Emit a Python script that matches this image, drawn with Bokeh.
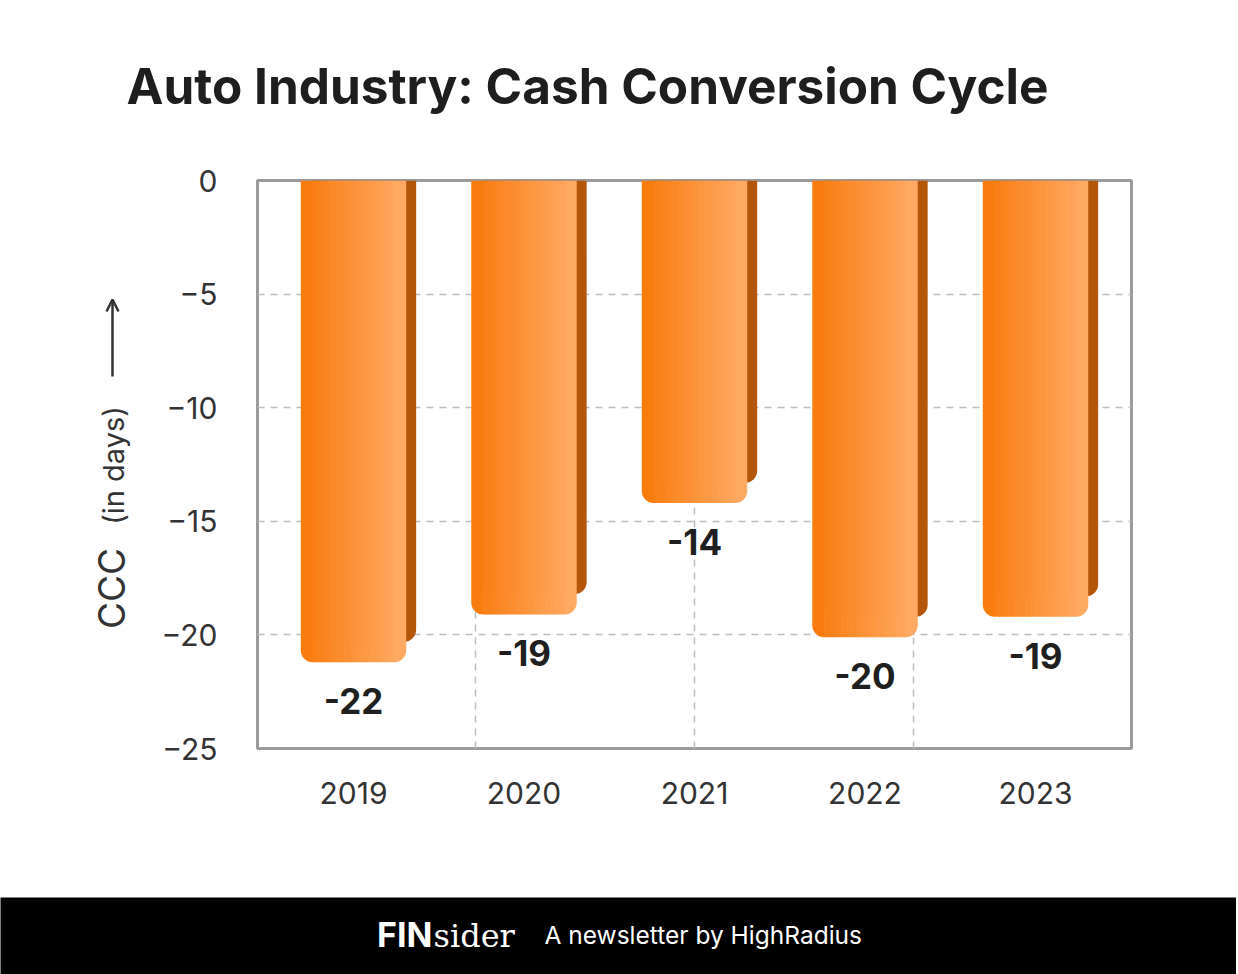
import numpy as np
from bokeh.plotting import figure
from bokeh.models import FixedTicker, Range1d, ColumnDataSource, Arrow, OpenHead
from bokeh.layouts import column, row
from bokeh.embed import file_html
from bokeh.resources import INLINE
from bokeh.core.properties import value

# ---------------- data ----------------
years = ["2019", "2020", "2021", "2022", "2023"]
ccc_days = [-21.2, -19.1, -14.2, -20.1, -19.2]
ccc_labels = ["-22", "-19", "-14", "-20", "-19"]
y_ticks = [0, -5, -10, -15, -20, -25]
y_grid = [-5, -10, -15, -20]

title_text = "Auto Industry: Cash Conversion Cycle"
y_label_main = "CCC"
y_label_unit = "(in days)"
footer_brand_a = "FIN"
footer_brand_b = "sider"
footer_text = "A newsletter by HighRadius"

# ---------------- style ----------------
FONT = "Inter"
W = 1236
TITLE_H = 140
MAIN_H = 757
FOOT_H = 77
YT_W = 150                # width of the strip holding the vertical y title
PX_PER_X = 170.5          # pixels per x unit in the frame
BAR_W = 0.615
SIDE_DX = 0.06
SIDE_DY = 0.9
R = 12
C_LEFT = np.array([249, 121, 10])
C_RIGHT = np.array([255, 172, 104])
SIDE_COLOR = "#B4560A"
TXT = "#333333"

x_pos = [i + 1 for i in range(len(years))]


def grad(t):
    r, g, b = (C_LEFT + (C_RIGHT - C_LEFT) * t).round().astype(int)
    return f"#{r:02x}{g:02x}{b:02x}"


def blank(width, height, **kw):
    f = figure(width=width, height=height, x_range=Range1d(0, width), y_range=Range1d(0, height),
               output_backend="svg", toolbar_location=None, min_border=0,
               x_axis_type=None, y_axis_type=None, frame_align=False, **kw)
    f.grid.visible = False
    f.outline_line_color = None
    return f


# ---------------- title ----------------
tfig = blank(W, TITLE_H)
tfig.text(x=[126], y=[TITLE_H - 85], text=[title_text], text_font=value(FONT),
          text_font_style="bold", text_font_size="49.5px", text_color="#1E1E1E",
          text_align="left", text_baseline="middle")

# ---------------- y title strip ----------------
yfig = blank(YT_W, MAIN_H)
top_px = TITLE_H + MAIN_H   # page y of the strip bottom
yfig.text(x=[111], y=[top_px - 588], text=[y_label_main], angle=np.pi / 2, text_font=value(FONT),
          text_font_size="37px", text_color=TXT, text_align="center", text_baseline="middle")
yfig.text(x=[113], y=[top_px - 465], text=[y_label_unit], angle=np.pi / 2, text_font=value(FONT),
          text_font_size="29px", text_color=TXT, text_align="center", text_baseline="middle")
yfig.add_layout(Arrow(x_start=112, y_start=top_px - 376, x_end=112, y_end=top_px - 299,
                      line_color=TXT, line_width=2.5,
                      end=OpenHead(size=12, line_color=TXT, line_width=2.5)))

# ---------------- main chart ----------------
p = figure(width=W - YT_W, height=MAIN_H, x_range=Range1d(0.437, 5.563), y_range=Range1d(-25, 0),
           output_backend="svg", toolbar_location=None, frame_align=False,
           min_border_left=257 - YT_W, min_border_right=W - 1131, min_border_top=180 - TITLE_H,
           min_border_bottom=TITLE_H + MAIN_H - 748)
p.outline_line_color = "#9B9B9B"
p.outline_line_width = 3

p.xgrid.ticker = FixedTicker(ticks=[1.715, 3.0, 4.285])
p.ygrid.ticker = FixedTicker(ticks=y_grid)
for g in (p.xgrid, p.ygrid):
    g.grid_line_color = "#BDBDBD"
    g.grid_line_width = 1.5
    g.grid_line_dash = "7 6"

p.xaxis.ticker = FixedTicker(ticks=x_pos)
p.xaxis.major_label_overrides = {x: y for x, y in zip(x_pos, years)}
p.yaxis.ticker = FixedTicker(ticks=y_ticks)
for ax in (p.xaxis, p.yaxis):
    ax.axis_line_color = None
    ax.major_tick_line_color = None
    ax.minor_tick_line_color = None
    ax.major_tick_out = 0
    ax.major_tick_in = 0
    ax.major_label_text_font = FONT
    ax.major_label_text_font_size = "30px"
    ax.major_label_text_color = TXT
p.xaxis.major_label_standoff = 33
p.yaxis.major_label_standoff = 40

# side (shadow) faces
p.vbar(x=[x + SIDE_DX for x in x_pos], width=BAR_W, top=0,
       bottom=[v + SIDE_DY for v in ccc_days], fill_color=SIDE_COLOR, line_color=None,
       border_radius=(0, 0, R, R))

# front faces as gradient strips
edge_w = R / PX_PER_X
N_MID = 18
mid_w = (BAR_W - 2 * edge_w) / N_MID
lft = dict(x=[], b=[], c=[])
rgt = dict(x=[], b=[], c=[])
mid = dict(x=[], b=[], c=[])
for xc, v in zip(x_pos, ccc_days):
    L = xc - BAR_W / 2
    lft["x"].append(L + edge_w / 2); lft["b"].append(v); lft["c"].append(grad(edge_w / 2 / BAR_W))
    rgt["x"].append(L + BAR_W - edge_w / 2); rgt["b"].append(v); rgt["c"].append(grad(1 - edge_w / 2 / BAR_W))
    for k in range(N_MID):
        cx = L + edge_w + (k + 0.5) * mid_w
        mid["x"].append(cx); mid["b"].append(v); mid["c"].append(grad((cx - L) / BAR_W))

p.vbar(x="x", width=edge_w * 1.05, top=0, bottom="b", fill_color="c", line_color=None,
       border_radius=(0, 0, 0, R), source=ColumnDataSource(lft))
p.vbar(x="x", width=edge_w * 1.05, top=0, bottom="b", fill_color="c", line_color=None,
       border_radius=(0, 0, R, 0), source=ColumnDataSource(rgt))
p.vbar(x="x", width=mid_w * 1.15, top=0, bottom="b", fill_color="c", line_color=None,
       source=ColumnDataSource(mid))

# value labels
p.text(x=x_pos, y=ccc_days, text=ccc_labels, y_offset=39, text_font=value(FONT),
       text_font_style="bold", text_font_size="35px", text_color="#1F1F1F",
       text_align="center", text_baseline="middle")

# ---------------- footer ----------------
ffig = blank(W, FOOT_H, background_fill_color="black", border_fill_color="black")
ffig.text(x=[432], y=[FOOT_H - 37], text=[footer_brand_a], text_font=value(FONT),
          text_font_style="bold", text_font_size="34px", text_color="white",
          text_align="right", text_baseline="middle")
ffig.text(x=[433], y=[FOOT_H - 38], text=[footer_brand_b], text_font=value("DejaVu Serif"),
          text_font_size="32px", text_color="white",
          text_align="left", text_baseline="middle")
ffig.text(x=[544], y=[FOOT_H - 37], text=[footer_text], text_font=value(FONT),
          text_font_size="24.5px", text_color="white",
          text_align="left", text_baseline="middle")

layout = column(tfig, row(yfig, p, spacing=0), ffig, spacing=0)
open("out.html", "w").write(file_html(layout, INLINE))
